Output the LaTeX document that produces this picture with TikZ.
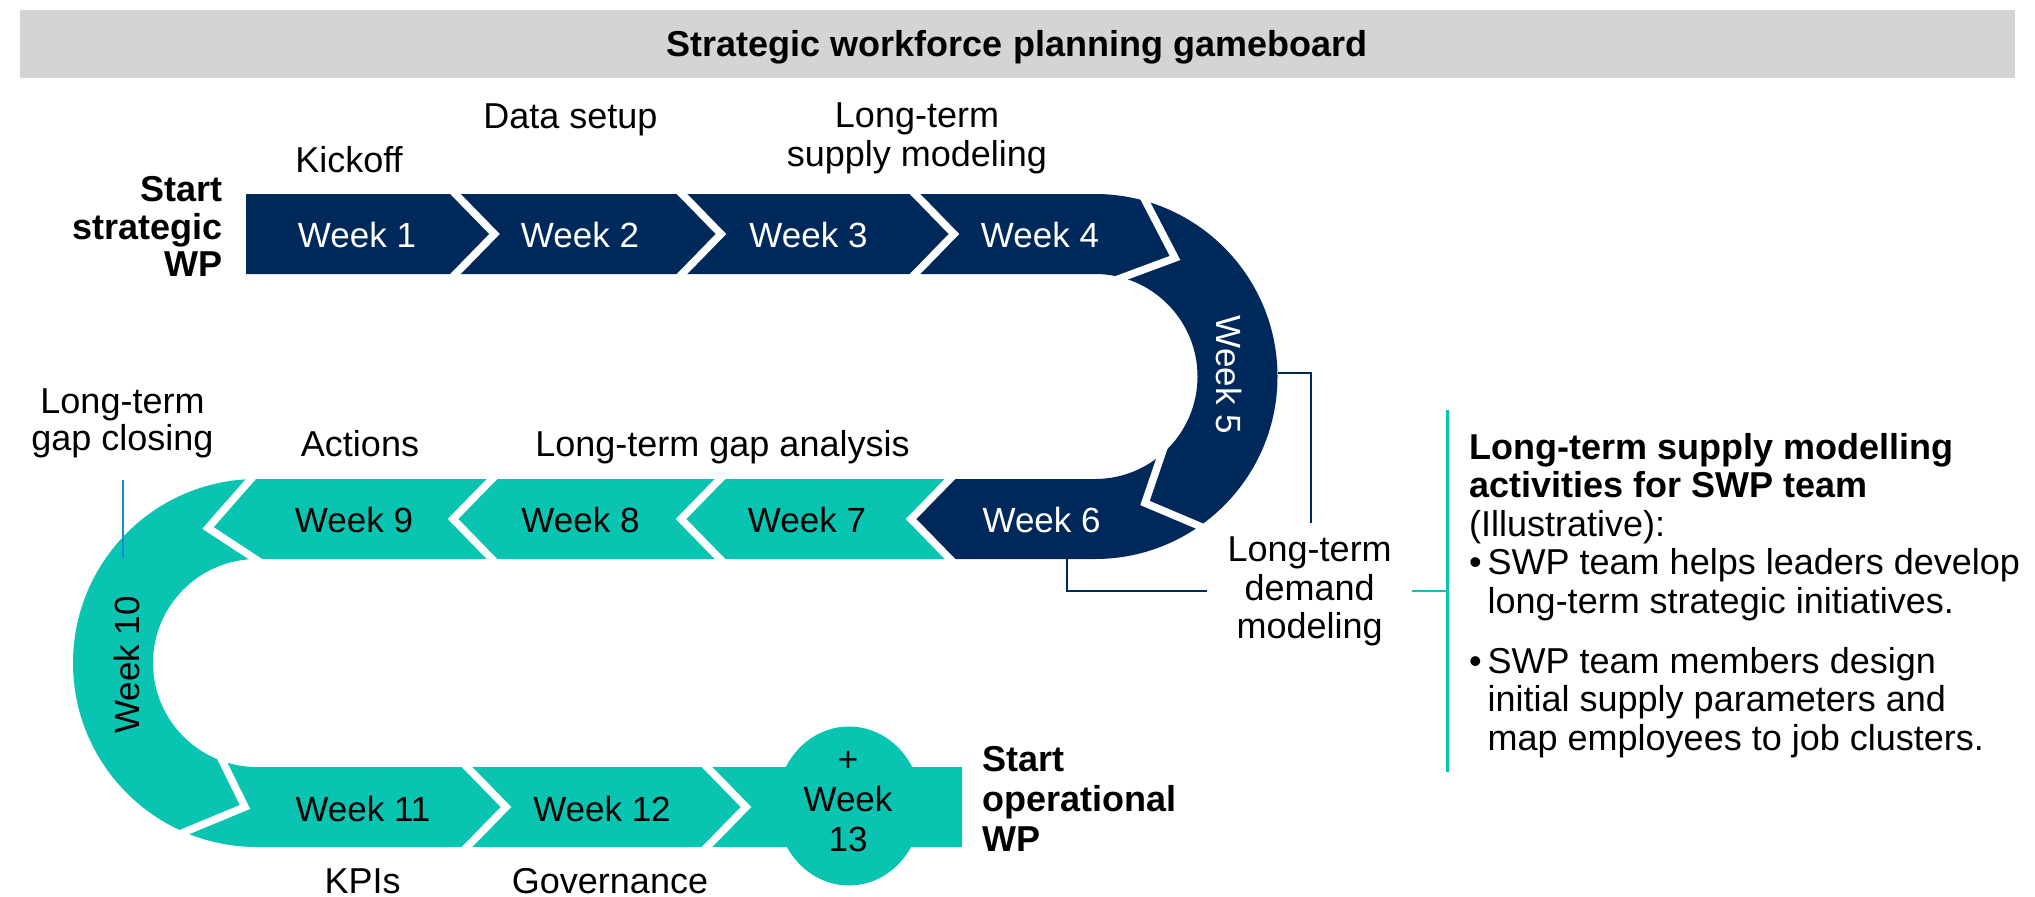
\documentclass[tikz,border=0pt]{standalone}
\usepackage{fontspec}
\setmainfont{Liberation Sans}
\definecolor{bandnavy}{RGB}{0,41,91}
\definecolor{bandteal}{RGB}{10,196,178}
\definecolor{hdrgray}{RGB}{212,212,212}
\definecolor{leadblue}{RGB}{20,140,210}
\begin{document}
\begin{tikzpicture}[x=1pt,y=1pt,
  lbl/.style={font=\fontsize{36}{39}\selectfont, inner sep=0pt, align=center},
  boldlbl/.style={font=\bfseries\fontsize{36}{37.5}\selectfont, inner sep=0pt},
  wk/.style={font=\fontsize{35}{40}\selectfont, inner sep=0pt, align=center},
  wkdark/.style={wk, text=white},
  gapline/.style={draw=white, line width=7.5pt, line join=miter, miter limit=10},
  lead/.style={line width=2.3pt}]
\useasboundingbox (0,0) rectangle (2035,-897);

% header bar
\fill[hdrgray] (19.5,-10) rectangle (2014.5,-78);
\node[boldlbl, font=\bfseries\fontsize{36}{40}\selectfont, anchor=base] (title) at (1017,-56.7) {Strategic workforce planning gameboard};

% navy part of the track: weeks 1-6
\fill[bandnavy] (246,-194) -- (1095,-194)
  arc[start angle=90, end angle=-90, radius=182.5pt]
  -- (950,-559) -- (911,-519) -- (950,-479) -- (1095,-479)
  arc[start angle=-90, end angle=90, radius=102.5pt]
  -- (246,-274) -- cycle;

% teal part of the track: weeks 7-13
\fill[bandteal] (950,-479) -- (257,-479)
  arc[start angle=90, end angle=270, radius=184pt]
  -- (962,-847) -- (962,-767) -- (257,-767)
  arc[start angle=270, end angle=90, radius=104pt]
  -- (950,-559) -- (911,-519) -- cycle;
\fill[bandteal] (849,-806) ellipse[x radius=72.5pt, y radius=79.5pt];

% white chevron gaps between the weeks
\foreach \xt in {455.5,682,915}
  \draw[gapline] (\xt-9.75,-184) -- (\xt+39,-234) -- (\xt-9.75,-284);
\foreach \xb in {950,720,492}
  \draw[gapline] (\xb+9.75,-469) -- (\xb-39,-519) -- (\xb+9.75,-569);
\foreach \xt in {467,707}
  \draw[gapline] (\xt-9.75,-757) -- (\xt+39,-807) -- (\xt-9.75,-857);
\draw[gapline] (1140,-190.5) -- (1175,-258) -- (1107.5,-283);
\draw[gapline] (1167.5,-437) -- (1145,-503) -- (1210,-530.5);
\draw[gapline] (260.5,-468) -- (208,-528) -- (269,-568);
\draw[gapline] (215,-746) -- (245,-807) -- (170,-838);

% week labels
\node[wkdark, anchor=base] (w1) at (357,-247.3) {Week 1};
\node[wkdark, anchor=base] (w2) at (580,-247.3) {Week 2};
\node[wkdark, anchor=base] (w3) at (808.5,-247.3) {Week 3};
\node[wkdark, anchor=base] (w4) at (1040,-247.3) {Week 4};
\node[wkdark, rotate=-90] (w5) at (1229,-375) {Week 5};
\node[wkdark, anchor=base] (w6) at (1041.6,-532.7) {Week 6};
\node[wk, anchor=base] (w7) at (807,-532.7) {Week 7};
\node[wk, anchor=base] (w8) at (580.5,-532.7) {Week 8};
\node[wk, anchor=base] (w9) at (354,-532.7) {Week 9};
\node[wk, rotate=90] (w10) at (127,-665) {Week 10};
\node[wk, anchor=base] (w11) at (363,-821.4) {Week 11};
\node[wk, anchor=base] (w12) at (602,-821.4) {Week 12};
\node[wk, anchor=base] (w13) at (848,-851.7) {+\\Week\\13};

% phase labels (multi-line nodes sit on the baseline of their last line)
\node[boldlbl, align=right, anchor=base east] (startS) at (223,-276.7) {Start\\strategic\\WP};
\node[lbl, anchor=base] (kick) at (349,-172) {Kickoff};
\node[lbl, anchor=base] (data) at (570.5,-128) {Data setup};
\node[lbl, anchor=base] (supply) at (917,-166) {Long-term\\supply modeling};
\node[lbl, font=\fontsize{36}{37}\selectfont, anchor=base] (gapclose) at (122.5,-450) {Long-term\\gap closing};
\node[lbl, anchor=base] (actions) at (360,-456.7) {Actions};
\node[lbl, anchor=base] (gapan) at (722.5,-456.7) {Long-term gap analysis};
\node[lbl, anchor=base] (kpi) at (362.6,-893) {KPIs};
\node[lbl, anchor=base] (gov) at (610,-893) {Governance};
\node[boldlbl, font=\bfseries\fontsize{36}{40}\selectfont, align=left, anchor=base west] (startO) at (982.7,-851.7) {Start\\operational\\WP};
\node[lbl, font=\fontsize{36}{38.3}\selectfont, anchor=base] (demand) at (1309.7,-638.3) {Long-term\\demand\\modeling};

% notes block
\node[inner sep=0pt, align=left, anchor=base west, font=\fontsize{36}{38.5}\selectfont] (notes) at (1469,-750)
  {\textbf{Long-term supply modelling}\\
   \textbf{activities for SWP team}\\
   (Illustrative):\\
   \makebox[18.5pt][l]{\textbullet}SWP team helps leaders develop\\
   \hspace*{18.5pt}long-term strategic initiatives.\\[21.5pt]
   \makebox[18.5pt][l]{\textbullet}SWP team members design\\
   \hspace*{18.5pt}initial supply parameters and\\
   \hspace*{18.5pt}map employees to job clusters.};

% leader lines
\coordinate (w5out) at (1278,-373);
\coordinate (w5lead) at (1311,-523);
\coordinate (w6bot) at (1067,-559);
\coordinate (w6lead) at (1207,-591);
\coordinate (brtop) at (1447.6,-410);
\coordinate (brbot) at (1447.6,-772);
\coordinate (brtick) at (1412,-591);
\coordinate (gcA) at (123,-480);
\coordinate (gcB) at (123,-558);
\draw[bandnavy, lead] (w5out) -| (w5lead);
\draw[bandnavy, lead] (w6bot) |- (w6lead);
\draw[bandteal, line width=2.7pt] (brtop) -- (brbot);
\draw[bandteal, line width=2.7pt] (brtick) -- (brtick -| brtop);
\draw[leadblue, line width=2.5pt] (gcA) -- (gcB);
\end{tikzpicture}
\end{document}
